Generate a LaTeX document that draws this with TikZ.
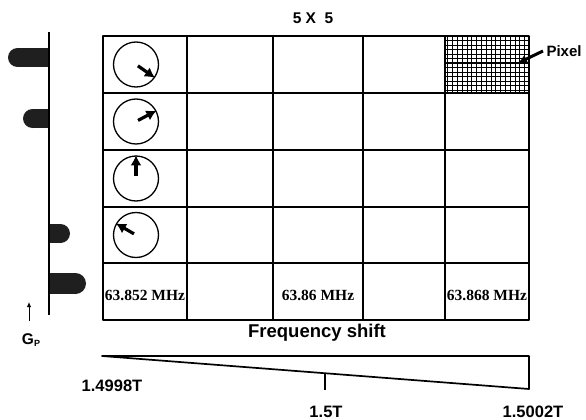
\documentclass[tikz,border=0pt]{standalone}
\usepackage{fontspec}
\setmainfont{Liberation Sans}
\newfontfamily\timesfont{Liberation Serif}
\usetikzlibrary{arrows.meta,calc}

\tikzset{
  cell/.style={line width=1.7pt},
  spin/.style={circle,draw,line width=1.3pt,minimum size=45pt,inner sep=0pt},
  spinarrow/.style={line width=3.2pt,-{Latex[length=10pt,width=11pt]}},
  lobe/.style={fill=black!88},
  freq/.style={font=\timesfont\bfseries\fontsize{15.5}{15.5}\selectfont},
  lbl/.style={font=\bfseries\fontsize{16.5}{16.5}\selectfont},
}

\begin{document}
\begin{tikzpicture}[x=1pt,y=-1pt,line join=round]
  \useasboundingbox (0,0) rectangle (586,420);
  % hatched pixel
  \foreach \x in {447.8,452.6,...,526} \draw[line width=0.8pt] (\x,36) -- (\x,93);
  \foreach \y in {40.5,45,...,90} \draw[line width=0.7pt] (445,\y) -- (529,\y);
  \draw[line width=1.3pt] (445,63) -- (529,63);
  % grid
  \coordinate (NW) at (103,36);
  \coordinate (SE) at (529,320);
  \foreach \x in {187,273,363,445} \draw[cell] (\x,36) -- (\x,320);
  \foreach \y in {93,150,207,263} \draw[cell] (103,\y) -- (529,\y);
  \draw[line width=2.2pt] (NW) rectangle (SE);
  % gradient axis with lobes
  \coordinate (axtop) at (49,32);
  \coordinate (axbot) at (49,315);
  \foreach \a/\b/\c/\r in {17.5/49/57.5/9.5, 32.5/49/118.5/9.5, 49/60.5/233.5/9.5, 49/75.5/283.5/10.5} {
    \ifdim\a pt<49pt
      \fill[lobe] (\a,\c-\r) rectangle (\b,\c+\r);
      \fill[lobe] (\a,\c) circle (\r);
    \else
      \fill[lobe] (\a,\c-\r) rectangle (\b,\c+\r);
      \fill[lobe] (\b,\c) circle (\r);
    \fi
  }
  \draw[line width=2.2pt] (axtop) -- (axbot);
  \node[font=\bfseries\fontsize{15.5}{15.5}\selectfont] (gp) at (31,340) {G\raisebox{-2.5pt}{\fontsize{9}{9}\selectfont P}};
  \coordinate (gtail) at (29,321);
  \coordinate (ghead) at (29,302);
  \draw[line width=0.9pt,-{Latex[length=5pt,width=4.5pt]}] (gtail) -- (ghead);
  % spins
  \foreach \i/\y/\a in {1/64.5/-35,2/121.5/28,3/178.5/90,4/235/150} {
    \node[spin] (s\i) at (136,\y) {};
    \draw[spinarrow] ($(s\i.center)!0.1!(s\i.\a)$) -- (s\i.\a);
  }
  % labels
  \node[font=\bfseries\fontsize{15.5}{15.5}\selectfont] (title) at (313,18) {5 X~~5};
  \node[font=\bfseries\fontsize{15}{15}\selectfont,anchor=west] (pixel) at (543,51) {Pixel};
  \coordinate (pixtip) at (518,63);
  \draw[line width=3pt,-{Latex[length=9pt,width=9pt]}] (pixel.west) -- (pixtip);
  \node[freq] (f1) at (145,295) {63.852 MHz};
  \node[freq] (f2) at (318,295) {63.86 MHz};
  \node[freq] (f3) at (487,295) {63.868 MHz};
  \node[font=\bfseries\fontsize{18.5}{18.5}\selectfont] (fshift) at (317,333) {Frequency shift};
  % field ramp
  \coordinate (bl) at (102,356);
  \coordinate (br) at (529,356);
  \coordinate (bb) at (529,389);
  \draw[line width=1.7pt] (bl) -- (br) -- (bb) -- cycle;
  \coordinate (tick) at ($(bl)!0.522!(bb)$);
  \draw[line width=1.7pt] (tick) -- ++(0,17);
  \node[lbl] (lo) at (112,386) {1.4998T};
  \node[lbl] (mid) at (326,412) {1.5T};
  \node[lbl] (hi) at (533,412) {1.5002T};
\end{tikzpicture}
\end{document}
